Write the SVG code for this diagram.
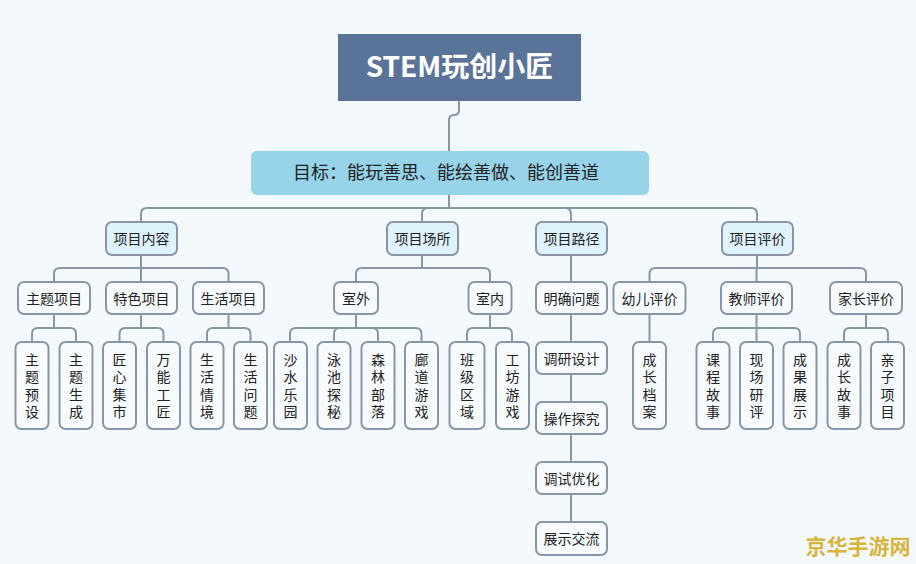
<svg xmlns="http://www.w3.org/2000/svg" width="916" height="564" viewBox="0 0 916 564">
<style>
text{font-family:"Microsoft YaHei","Noto Sans CJK SC","Noto Sans",sans-serif;fill:#222;}
.t{font-size:14px;text-anchor:middle;}
.v{font-size:14px;text-anchor:middle;writing-mode:vertical-rl;letter-spacing:3.5px;}
.l2 rect{fill:#dff3fc;stroke:#8a95a8;stroke-width:2;}
.n rect{fill:#f8fbfe;stroke:#8a95a8;stroke-width:2;}
#connectors path{fill:none;stroke:#8a95a8;stroke-width:2;}
</style>
<rect width="916" height="564" fill="#f4f9fd"/>
<g id="connectors">
<path d="M459,101 V110 Q459,115 454,115 Q449,115 449,120 V151"/>
<path d="M449,195 V208 H147 Q141,208 141,214 V222"/>
<path d="M449,208 H428 Q422,208 422,214 V222"/>
<path d="M449,208 H565 Q571,208 571,214 V222"/>
<path d="M449,208 H751 Q757,208 757,214 V222"/>
<path d="M141,255 V268 H60 Q54,268 54,274 V282"/>
<path d="M141,268 V282"/>
<path d="M141,268 H222.5 Q228.5,268 228.5,274 V282"/>
<path d="M422,255 V268 H362 Q356,268 356,274 V282"/>
<path d="M422,268 H484 Q490,268 490,274 V282"/>
<path d="M571,255 V282 M571,314 V342 M571,374 V402 M571,434 V462 M571,494 V522"/>
<path d="M757,255 V268 H655.5 Q649.5,268 649.5,274 V282"/>
<path d="M757,268 H756.5 V282"/>
<path d="M757,268 H860 Q866,268 866,274 V282"/>
<path d="M54,314 V328 H38 Q32,328 32,334 V342 M54,328 H70 Q76,328 76,334 V342"/>
<path d="M141,314 V328 H125.5 Q119.5,328 119.5,334 V342 M141,328 H157.5 Q163.5,328 163.5,334 V342"/>
<path d="M228.5,314 V328 H213 Q207,328 207,334 V342 M228.5,328 H244.5 Q250.5,328 250.5,334 V342"/>
<path d="M356,314 V328 H296 Q290,328 290,334 V342 M356,328 H340 Q334,328 334,334 V342 M356,328 H372 Q378,328 378,334 V342 M356,328 H415.5 Q421.5,328 421.5,334 V342"/>
<path d="M490,314 V328 H473 Q467,328 467,334 V342 M490,328 H506 Q512,328 512,334 V342"/>
<path d="M649.5,314 V342"/>
<path d="M756.5,314 V328 H719 Q713,328 713,334 V342 M756.5,328 V342 M756.5,328 H794 Q800,328 800,334 V342"/>
<path d="M866,314 V328 H850 Q844,328 844,334 V342 M866,328 H882 Q888,328 888,334 V342"/>
</g>
<g id="root">
<rect x="338" y="34" width="243" height="67" fill="#5a7399"/>
<text x="459.5" y="77" style="font-size:28px;font-weight:bold;fill:#fff;text-anchor:middle">STEM玩创小匠</text>
</g>
<g id="goal">
<rect x="251" y="151" width="398" height="44" rx="6" fill="#97d3e9"/>
<text x="293" y="179" style="font-size:18px">目标：能玩善思、能绘善做、能创善道</text>
</g>
<g id="n-neirong" class="l2"><rect x="106" y="222" width="71" height="33" rx="6"/><text class="t" x="141.5" y="244">项目内容</text></g>
<g id="n-changsuo" class="l2"><rect x="387" y="222" width="71" height="33" rx="6"/><text class="t" x="422.5" y="244">项目场所</text></g>
<g id="n-lujing" class="l2"><rect x="536" y="222" width="71" height="33" rx="6"/><text class="t" x="571.5" y="244">项目路径</text></g>
<g id="n-pingjia" class="l2"><rect x="722" y="222" width="71" height="33" rx="6"/><text class="t" x="757.5" y="244">项目评价</text></g>
<g id="n-zhuti" class="n"><rect x="18" y="282" width="72" height="32" rx="6"/><text class="t" x="54" y="303.5">主题项目</text></g>
<g id="n-tese" class="n"><rect x="106" y="282" width="71" height="32" rx="6"/><text class="t" x="141.5" y="303.5">特色项目</text></g>
<g id="n-shenghuo" class="n"><rect x="193" y="282" width="71" height="32" rx="6"/><text class="t" x="228.5" y="303.5">生活项目</text></g>
<g id="n-shiwai" class="n"><rect x="334" y="282" width="44" height="32" rx="6"/><text class="t" x="356" y="303.5">室外</text></g>
<g id="n-shinei" class="n"><rect x="468.5" y="282" width="43" height="32" rx="6"/><text class="t" x="490" y="303.5">室内</text></g>
<g id="n-mingque" class="n"><rect x="536" y="282" width="71" height="32" rx="6"/><text class="t" x="571.5" y="303.5">明确问题</text></g>
<g id="n-diaoyan" class="n"><rect x="536" y="342" width="71" height="32" rx="6"/><text class="t" x="571.5" y="363.5">调研设计</text></g>
<g id="n-caozuo" class="n"><rect x="536" y="402" width="71" height="32" rx="6"/><text class="t" x="571.5" y="423.5">操作探究</text></g>
<g id="n-tiaoshi" class="n"><rect x="536" y="462" width="71" height="32" rx="6"/><text class="t" x="571.5" y="483.5">调试优化</text></g>
<g id="n-zhanshi" class="n"><rect x="536" y="522" width="71" height="33" rx="6"/><text class="t" x="571.5" y="543.5">展示交流</text></g>
<g id="n-youer" class="n"><rect x="613.5" y="282" width="72" height="32" rx="6"/><text class="t" x="649.5" y="303.5">幼儿评价</text></g>
<g id="n-jiaoshi" class="n"><rect x="721" y="282" width="71" height="32" rx="6"/><text class="t" x="756.5" y="303.5">教师评价</text></g>
<g id="n-jiazhang" class="n"><rect x="830" y="282" width="72" height="32" rx="6"/><text class="t" x="866" y="303.5">家长评价</text></g>
<g id="l-1" class="n"><rect x="15.5" y="342" width="33" height="87" rx="6"/><text class="v" x="32" y="387.5">主题预设</text></g>
<g id="l-2" class="n"><rect x="59.5" y="342" width="33" height="87" rx="6"/><text class="v" x="76" y="387.5">主题生成</text></g>
<g id="l-3" class="n"><rect x="103" y="342" width="33" height="87" rx="6"/><text class="v" x="119.5" y="387.5">匠心集市</text></g>
<g id="l-4" class="n"><rect x="147" y="342" width="33" height="87" rx="6"/><text class="v" x="163.5" y="387.5">万能工匠</text></g>
<g id="l-5" class="n"><rect x="190.5" y="342" width="33" height="87" rx="6"/><text class="v" x="207" y="387.5">生活情境</text></g>
<g id="l-6" class="n"><rect x="234" y="342" width="33" height="87" rx="6"/><text class="v" x="250.5" y="387.5">生活问题</text></g>
<g id="l-7" class="n"><rect x="274" y="342" width="33" height="87" rx="6"/><text class="v" x="290.5" y="387.5">沙水乐园</text></g>
<g id="l-8" class="n"><rect x="317.5" y="342" width="33" height="87" rx="6"/><text class="v" x="334" y="387.5">泳池探秘</text></g>
<g id="l-9" class="n"><rect x="361.5" y="342" width="33" height="87" rx="6"/><text class="v" x="378" y="387.5">森林部落</text></g>
<g id="l-10" class="n"><rect x="405" y="342" width="33" height="87" rx="6"/><text class="v" x="421.5" y="387.5">廊道游戏</text></g>
<g id="l-11" class="n"><rect x="449.5" y="342" width="35" height="87" rx="6"/><text class="v" x="467" y="387.5">班级区域</text></g>
<g id="l-12" class="n"><rect x="496" y="342" width="33" height="87" rx="6"/><text class="v" x="512.5" y="387.5">工坊游戏</text></g>
<g id="l-13" class="n"><rect x="633" y="342" width="33" height="87" rx="6"/><text class="v" x="649.5" y="387.5">成长档案</text></g>
<g id="l-14" class="n"><rect x="696.5" y="342" width="33" height="87" rx="6"/><text class="v" x="713" y="387.5">课程故事</text></g>
<g id="l-15" class="n"><rect x="740" y="342" width="33" height="87" rx="6"/><text class="v" x="756.5" y="387.5">现场研评</text></g>
<g id="l-16" class="n"><rect x="783.5" y="342" width="33" height="87" rx="6"/><text class="v" x="800" y="387.5">成果展示</text></g>
<g id="l-17" class="n"><rect x="827.5" y="342" width="33" height="87" rx="6"/><text class="v" x="844" y="387.5">成长故事</text></g>
<g id="l-18" class="n"><rect x="871" y="342" width="33" height="87" rx="6"/><text class="v" x="887.5" y="387.5">亲子项目</text></g>
<text x="858" y="554" style="font-size:21px;font-weight:bold;fill:#d8b43c;text-anchor:middle">京华手游网</text>
</svg>
